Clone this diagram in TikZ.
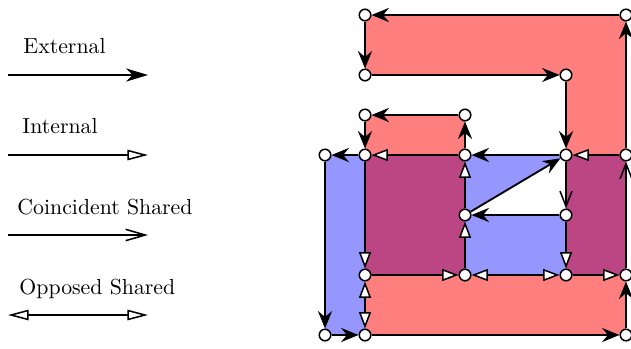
\documentclass[tikz,border=0pt]{standalone}
\usetikzlibrary{arrows.meta}
\definecolor{facered}{RGB}{255,127,127}
\definecolor{faceblue}{RGB}{150,150,255}
\definecolor{facepurple}{RGB}{188,69,132}
\begin{document}
\begin{tikzpicture}[x=0.4587pt,y=-0.4587pt,
  vtx/.style={circle,draw,fill=white,line width=0.7pt,minimum size=5.3pt,inner sep=0pt},
  edge/.style={line width=0.85pt},
  ext/.style={edge,-{Stealth[length=8pt,width=6.5pt,inset=2.7pt]}},
  int/.style={edge,-{Triangle[fill=white,length=7.5pt,width=5.5pt,line width=0.7pt]}},
  coinc/.style={edge,-{Straight Barb[length=7pt,width=5.5pt,line width=0.7pt]}},
  opp/.style={edge,{Triangle[fill=white,length=7.5pt,width=5.5pt,line width=0.7pt]}-{Triangle[fill=white,length=7.5pt,width=5.5pt,line width=0.7pt]}},
  lext/.style={edge,-{Stealth[length=10pt,width=6pt,inset=3pt]}},
  lint/.style={edge,-{Triangle[fill=white,length=9.5pt,width=4.8pt,line width=0.7pt]}},
  lcoinc/.style={edge,-{Straight Barb[length=9pt,width=5.2pt,line width=0.7pt]}},
  lopp/.style={edge,{Triangle[fill=white,length=9.5pt,width=4.8pt,line width=0.7pt]}-{Triangle[fill=white,length=9.5pt,width=4.8pt,line width=0.7pt]}},
  lbl/.style={anchor=base west,inner sep=0pt}]
\useasboundingbox (0,0) rectangle (631,348);
% faces
\fill[facered] (365,15) -- (626,15) -- (626,155) -- (566,155) -- (566,75) -- (365,75) -- cycle;
\fill[facered] (365,115) rectangle (465,155);
\fill[facered] (365,275) rectangle (626,335);
\fill[faceblue] (325,155) rectangle (365,335);
\fill[faceblue] (465,155) -- (566,155) -- (465,215) -- (566,215) -- (566,275) -- (465,275) -- cycle;
\fill[facepurple] (365,155) rectangle (465,275);
\fill[facepurple] (566,155) rectangle (626,275);
% legend
\coordinate (l1a) at (8,75);  \coordinate (l1b) at (148,75);
\coordinate (l2a) at (8,155); \coordinate (l2b) at (148,155);
\coordinate (l3a) at (8,235); \coordinate (l3b) at (148,235);
\coordinate (l4a) at (8,315); \coordinate (l4b) at (148,315);
\node[lbl] (t1) at (23,53) {External};
\node[lbl] (t2) at (22,133) {Internal};
\node[lbl] (t3) at (17,214) {Coincident Shared};
\node[lbl] (t4) at (19,294) {Opposed Shared};
\draw[lext] (l1a) -- (l1b);
\draw[lint] (l2a) -- (l2b);
\draw[lcoinc] (l3a) -- (l3b);
\draw[lopp] (l4a) -- (l4b);
% vertices
\node[vtx] (a) at (365,15) {};
\node[vtx] (b) at (626,15) {};
\node[vtx] (c) at (365,75) {};
\node[vtx] (d) at (566,75) {};
\node[vtx] (e) at (365,115) {};
\node[vtx] (f) at (465,115) {};
\node[vtx] (g) at (325,155) {};
\node[vtx] (h) at (365,155) {};
\node[vtx] (i) at (465,155) {};
\node[vtx] (j) at (566,155) {};
\node[vtx] (k) at (626,155) {};
\node[vtx] (l) at (465,215) {};
\node[vtx] (m) at (566,215) {};
\node[vtx] (n) at (365,275) {};
\node[vtx] (o) at (465,275) {};
\node[vtx] (p) at (566,275) {};
\node[vtx] (q) at (626,275) {};
\node[vtx] (r) at (325,335) {};
\node[vtx] (s) at (365,335) {};
\node[vtx] (t) at (626,335) {};
% external half-edges
\draw[ext] (b) -- (a);
\draw[ext] (a) -- (c);
\draw[ext] (c) -- (d);
\draw[ext] (d) -- (j);
\draw[ext] (k) -- (b);
\draw[ext] (f) -- (e);
\draw[ext] (e) -- (h);
\draw[ext] (i) -- (f);
\draw[ext] (h) -- (g);
\draw[ext] (g) -- (r);
\draw[ext] (r) -- (s);
\draw[ext] (s) -- (t);
\draw[ext] (t) -- (q);
\draw[ext] (j) -- (i);
\draw[ext] (l) -- (j);
\draw[ext] (m) -- (l);
% internal
\draw[int] (k) -- (j);
\draw[int] (i) -- (h);
\draw[int] (h) -- (n);
\draw[int] (n) -- (o);
\draw[int] (o) -- (l);
\draw[int] (l) -- (i);
\draw[int] (m) -- (p);
\draw[int] (p) -- (q);
% coincident shared
\draw[coinc] (q) -- (k);
\draw[coinc] (j) -- (m);
% opposed shared
\draw[opp] (o) -- (p);
\draw[opp] (s) -- (n);
\end{tikzpicture}
\end{document}
